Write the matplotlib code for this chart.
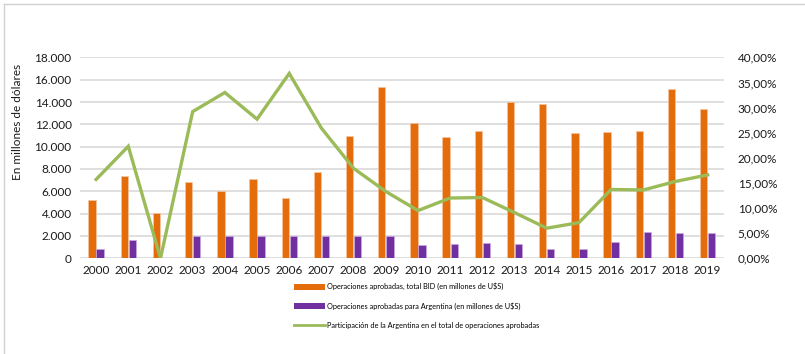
import matplotlib.pyplot as plt
import numpy as np
from matplotlib.lines import Line2D
from matplotlib.patches import Patch

years = [str(y) for y in range(2000, 2020)]
total_bid = [5200, 7400, 4100, 6800, 6000, 7100, 5400, 7700, 11000, 15300,
             12100, 10900, 11400, 14000, 13800, 11250, 11300, 11400, 15200, 13400]
argentina = [800, 1650, 0, 2000, 2000, 2000, 2000, 2000, 2000, 2000,
             1150, 1300, 1380, 1250, 850, 800, 1500, 2400, 2300, 2250]
participacion = [15.7, 22.3, 0.0, 29.2, 33.0, 27.7, 36.8, 25.9, 17.9, 13.3,
                 9.5, 12.0, 12.1, 9.1, 6.0, 7.1, 13.7, 13.6, 15.3, 16.6]

orange = "#E46C0A"
purple = "#7030A0"
green = "#9BBB59"
grid_c = "#D9D9D9"

plt.rcParams["font.family"] = ["Lato", "DejaVu Sans"]

fig = plt.figure(figsize=(8.05, 3.54), dpi=100)
ax = fig.add_axes([0.0994, 0.2703, 0.7997, 0.5677])
x = np.arange(len(years))
w = 0.23

# barras: total BID y Argentina
ax.bar(x - 0.125, total_bid, w, color=orange, edgecolor="#F4C6A0", linewidth=0.5, zorder=2)
ax.bar(x + 0.125, argentina, w, color=purple, edgecolor="#C9A9DE", linewidth=0.5, zorder=2)
ax.set_xlim(-0.5, len(years) - 0.5)
ax.set_ylim(0, 18000)
ax.set_yticks(range(0, 18001, 2000))
ax.set_yticklabels([f"{v:,}".replace(",", ".") for v in range(0, 18001, 2000)], fontsize=8.5)
ax.set_xticks(x)
ax.set_xticklabels(years, fontsize=8.5)
ax.yaxis.grid(True, color=grid_c, linewidth=1.2, zorder=0)
ax.set_axisbelow(True)
for s in ax.spines.values():
    s.set_visible(False)
ax.tick_params(length=0, pad=6, colors="#1a1a1a")
ax.tick_params(axis="x", pad=5)

# linea de participacion en eje secundario
ax2 = ax.twinx()
ax2.plot(x, participacion, color=green, linewidth=2.4, solid_joinstyle="miter", zorder=3)
ax2.set_ylim(0, 40)
ax2.set_yticks(range(0, 41, 5))
ax2.set_yticklabels([f"{v:.2f}%".replace(".", ",") for v in range(0, 41, 5)], fontsize=8.5)
for s in ax2.spines.values():
    s.set_visible(False)
ax2.tick_params(length=0, pad=10, colors="#1a1a1a")

fig.text(0.022, 0.655, "En millones de dólares", rotation=90, ha="center", va="center",
         fontsize=8.5, color="#1a1a1a")

handles = [Patch(facecolor=orange, edgecolor="none"),
           Patch(facecolor=purple, edgecolor="none"),
           Line2D([0], [0], color=green, linewidth=2)]
labels = ["Operaciones aprobadas, total BID (en millones de U$S)",
          "Operaciones aprobadas para Argentina (en millones de U$S)",
          "Participación de la Argentina en el total de operaciones aprobadas"]
fig.legend(handles, labels, loc="upper left", bbox_to_anchor=(0.362, 0.21), frameon=False,
           fontsize=5.3, handlelength=4.2, handleheight=0.9, handletextpad=0.3,
           labelspacing=1.65, borderaxespad=0)

fig.add_artist(Line2D([4 / 805, 1], [1 - 4 / 354, 1 - 4 / 354], color="#D0D0D0", linewidth=1,
                      transform=fig.transFigure))
fig.add_artist(Line2D([4 / 805, 4 / 805], [0, 1 - 4 / 354], color="#D0D0D0", linewidth=1,
                      transform=fig.transFigure))

plt.savefig("out.png", dpi=100)
